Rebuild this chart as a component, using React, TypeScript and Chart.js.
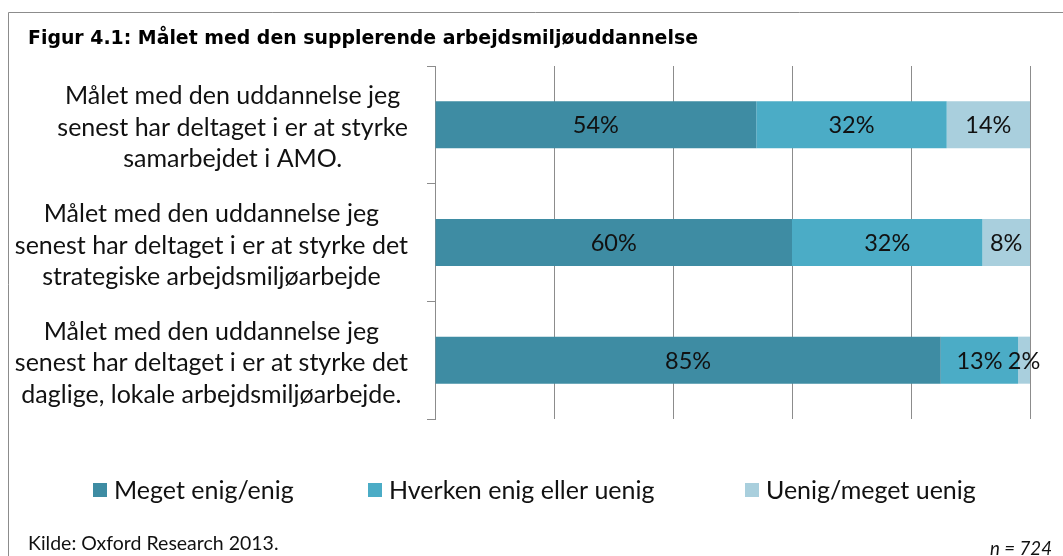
import { useEffect, useRef } from "react";
import { Chart, registerables } from "chart.js";

Chart.register(...registerables);

// ---- data ----
const categories: string[][] = [
  ["Målet med den uddannelse jeg", "senest har deltaget i er at styrke", "samarbejdet i AMO."],
  ["Målet med den uddannelse jeg", "senest har deltaget i er at styrke det", "strategiske arbejdsmiljøarbejde"],
  ["Målet med den uddannelse jeg", "senest har deltaget i er at styrke det", "daglige, lokale arbejdsmiljøarbejde."],
];
const seriesNames = ["Meget enig/enig", "Hverken enig eller uenig", "Uenig/meget uenig"];
const megetEnig = [54, 60, 85];
const hverken = [32, 32, 13];
const uenig = [14, 8, 2];
const xTicks = [0, 20, 40, 60, 80, 100];
const titleText = "Figur 4.1: Målet med den supplerende arbejdsmiljøuddannelse";
const sourceText = "Kilde: Oxford Research 2013.";
const nText = "n = 724";

const colors = ["#3E8CA3", "#4BACC6", "#A9CFDD"];
const FONT = "Lato, 'Noto Sans', sans-serif";
const GRID = "#8c8c8c";
const LEGEND_X = [93, 368, 745];

const decorPlugin = {
  id: "decor",
  beforeDraw(chart: any) {
    const ctx = chart.ctx;
    ctx.save();
    ctx.fillStyle = "#fff";
    ctx.fillRect(0, 0, chart.width, chart.height);
    ctx.strokeStyle = GRID;
    ctx.lineWidth = 1;
    ctx.beginPath();
    ctx.moveTo(8.5, chart.height);
    ctx.lineTo(8.5, 12.5);
    ctx.lineTo(chart.width, 12.5);
    ctx.stroke();
    ctx.fillStyle = "#000";
    ctx.font = "bold 18.9px 'DejaVu Sans'";
    ctx.textBaseline = "alphabetic";
    ctx.textAlign = "left";
    ctx.fillText(titleText, 28, 44);
    ctx.restore();
  },
  afterDatasetsDraw(chart: any) {
    const ctx = chart.ctx;
    ctx.save();
    ctx.font = `23.5px ${FONT}`;
    ctx.fillStyle = "#111";
    ctx.textAlign = "center";
    ctx.textBaseline = "middle";
    chart.data.datasets.forEach((ds: any, di: number) => {
      const meta = chart.getDatasetMeta(di);
      meta.data.forEach((el: any, i: number) => {
        const v = ds.data[i];
        const cx = (el.x + el.base) / 2;
        ctx.fillText(`${v}%`, cx, el.y + 1);
      });
    });
    ctx.restore();
  },
  afterDraw(chart: any) {
    const ctx = chart.ctx;
    const yScale = chart.scales.y;
    ctx.save();
    // category labels
    ctx.font = `25px ${FONT}`;
    ctx.fillStyle = "#111";
    ctx.textAlign = "center";
    ctx.textBaseline = "middle";
    const blockRight = chart.chartArea.left - 27;
    const lineH = 31.5;
    (chart.data.labels as string[][]).forEach((lines, i) => {
      const cy = yScale.getPixelForTick(i) + 3;
      const w = Math.max(...lines.map((l) => ctx.measureText(l).width));
      const cx = blockRight - w / 2;
      lines.forEach((l, k) => {
        ctx.fillText(l, cx, cy + (k - (lines.length - 1) / 2) * lineH);
      });
    });
    // legend
    const ly = 490;
    chart.data.datasets.forEach((ds: any, di: number) => {
      const x = LEGEND_X[di];
      ctx.fillStyle = ds.backgroundColor;
      ctx.fillRect(x, ly - 7, 14, 14);
      ctx.fillStyle = "#111";
      ctx.textAlign = "left";
      ctx.fillText(ds.label, x + 21, ly + 1);
    });
    // footer
    ctx.textBaseline = "alphabetic";
    ctx.font = `19.5px ${FONT}`;
    ctx.fillStyle = "#111";
    ctx.textAlign = "left";
    ctx.fillText(sourceText, 28, 550);
    ctx.font = `italic 18.7px ${FONT}`;
    ctx.textAlign = "right";
    ctx.fillText(nText, 1052, 555);
    ctx.restore();
  },
};

export default function App() {
  const ref = useRef<HTMLCanvasElement | null>(null);
  useEffect(() => {
    if (!ref.current) return;
    const chart = new Chart(ref.current, {
      type: "bar",
      data: {
        labels: categories as any,
        datasets: [megetEnig, hverken, uenig].map((d, i) => ({
          label: seriesNames[i],
          data: d,
          backgroundColor: colors[i],
          borderWidth: 0,
          barPercentage: 0.4,
          categoryPercentage: 1,
        })),
      },
      options: {
        indexAxis: "y",
        animation: false,
        responsive: false,
        layout: { padding: { left: 427, top: 66, right: 33, bottom: 137 } },
        plugins: { legend: { display: false }, tooltip: { enabled: false }, title: { display: false } },
        scales: {
          x: {
            stacked: true,
            min: xTicks[0],
            max: xTicks[xTicks.length - 1],
            afterBuildTicks: (axis: any) => {
              axis.ticks = xTicks.map((v) => ({ value: v }));
            },
            ticks: { display: false },
            grid: { color: GRID, lineWidth: 1, drawTicks: false },
            border: { display: false },
          },
          y: {
            stacked: true,
            ticks: { display: false },
            grid: { drawOnChartArea: false, drawTicks: true, tickLength: 8, color: GRID, offset: true },
            border: { display: true, color: GRID, width: 1 },
          },
        },
      },
      plugins: [decorPlugin],
    });
    return () => chart.destroy();
  }, []);
  return (
    <canvas
      ref={ref}
      width={1063}
      height={556}
      style={{ position: "absolute", left: 0, top: 0, display: "block" }}
    />
  );
}
